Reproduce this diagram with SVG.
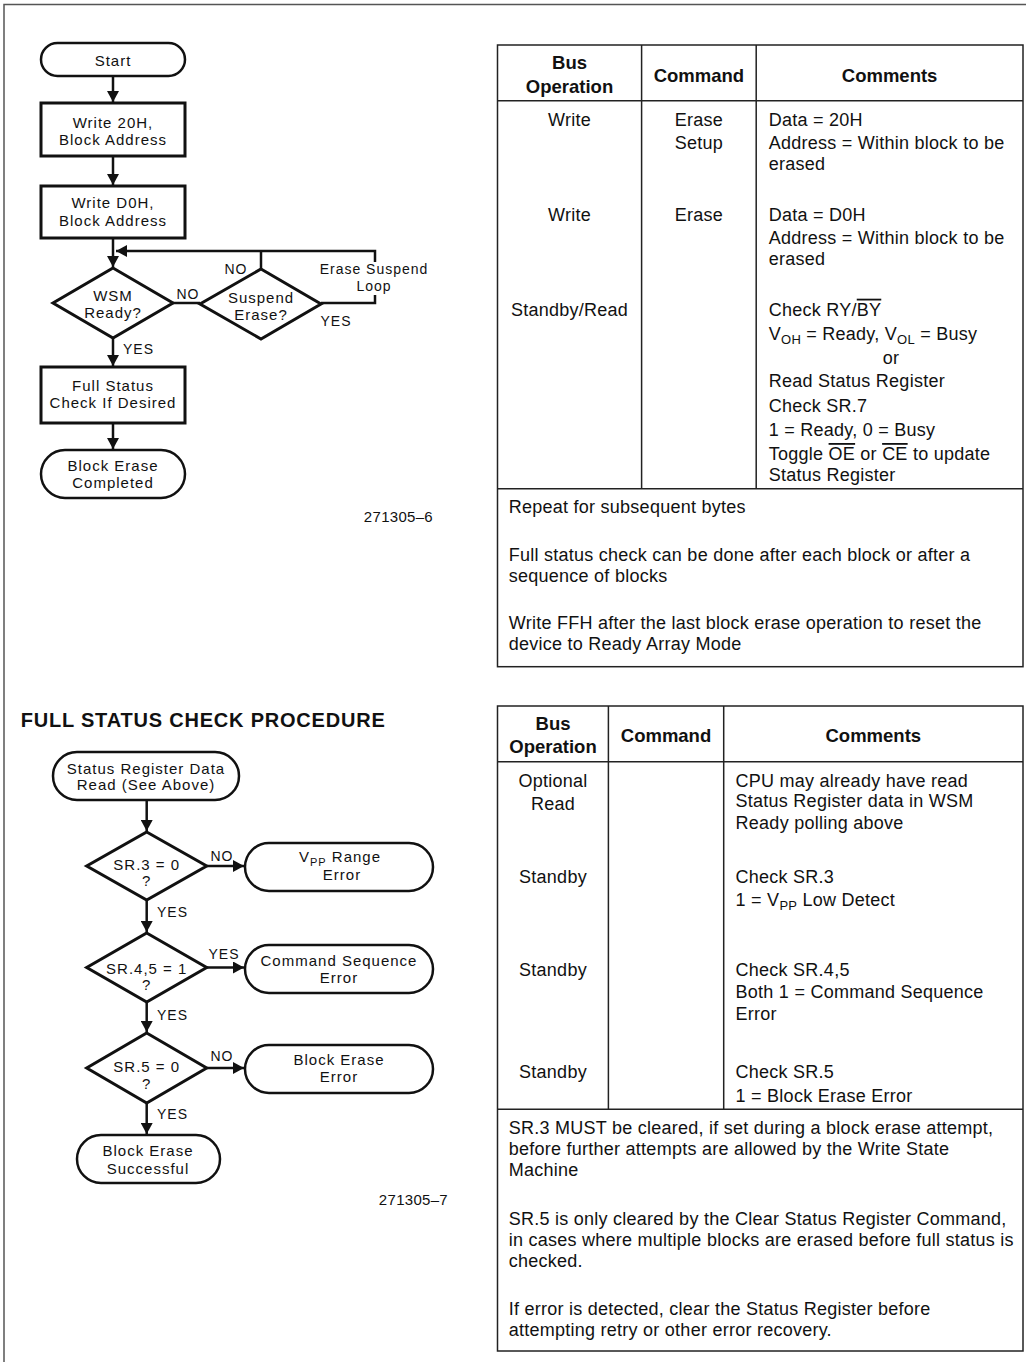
<svg xmlns="http://www.w3.org/2000/svg" width="1026" height="1362" viewBox="0 0 1026 1362">
<style>
.fc{font-family:"Liberation Sans",Arial,sans-serif;font-size:15px;letter-spacing:1px;fill:#111;text-anchor:middle}
.lb{font-family:"Liberation Sans",Arial,sans-serif;font-size:14px;letter-spacing:1px;fill:#111}
.tb{font-family:"Liberation Sans",Arial,sans-serif;font-size:18px;letter-spacing:0.25px;fill:#111}
.th{font-family:"Liberation Sans",Arial,sans-serif;font-size:18.5px;font-weight:bold;fill:#111;text-anchor:middle}
.c{text-anchor:middle}
.box{fill:#fff;stroke:#111;stroke-width:3}
.term{fill:#fff;stroke:#111;stroke-width:2.5}
.dia{fill:#fff;stroke:#111;stroke-width:3}
.con{fill:none;stroke:#111;stroke-width:2.5}
.grid{fill:none;stroke:#222;stroke-width:1.5}
.ov{text-decoration:overline}
</style>
<defs>
<marker id="ah" markerUnits="userSpaceOnUse" markerWidth="12" markerHeight="12" refX="11" refY="6" orient="auto">
<path d="M0,0 L11,6 L0,12 z" fill="#111"/>
</marker>
</defs>
<rect x="0" y="0" width="1026" height="1362" fill="#fff"/>
<g id="page-frame">
<path d="M4,1362 V4.5 H1026" fill="none" stroke="#555" stroke-width="1.5"/>
</g>

<g id="connectors">
<path class="con" d="M113,76 V102" marker-end="url(#ah)"/>
<path class="con" d="M113,156 V185" marker-end="url(#ah)"/>
<path class="con" d="M113,238 V267" marker-end="url(#ah)"/>
<path class="con" d="M321,303 H375 V295"/>
<path class="con" d="M375,262 V251 H116" marker-end="url(#ah)"/>
<path class="con" d="M261,269 V251"/>
<path class="con" d="M173,303 H200"/>
<path class="con" d="M113,338 V366" marker-end="url(#ah)"/>
<path class="con" d="M113,423 V449" marker-end="url(#ah)"/>
<path class="con" d="M146.7,800 V831" marker-end="url(#ah)"/>
<path class="con" d="M206.7,866 H244" marker-end="url(#ah)"/>
<path class="con" d="M146.7,900 V932" marker-end="url(#ah)"/>
<path class="con" d="M206.7,967.5 H244" marker-end="url(#ah)"/>
<path class="con" d="M146.7,1002 V1032" marker-end="url(#ah)"/>
<path class="con" d="M206.7,1068 H244" marker-end="url(#ah)"/>
<path class="con" d="M146.7,1103 V1134" marker-end="url(#ah)"/>
<text class="lb" x="236" y="273.5" text-anchor="middle">NO</text>
<text class="lb" x="188" y="298.5" text-anchor="middle">NO</text>
<text class="lb" x="374" y="273.5" text-anchor="middle">Erase Suspend</text>
<text class="lb" x="374" y="290.5" text-anchor="middle">Loop</text>
<text class="lb" x="336" y="325.5" text-anchor="middle">YES</text>
<text class="lb" x="123" y="353.5">YES</text>
<text class="lb" x="222" y="860.5" text-anchor="middle">NO</text>
<text class="lb" x="157" y="917">YES</text>
<text class="lb" x="224" y="958.5" text-anchor="middle">YES</text>
<text class="lb" x="157" y="1019.5">YES</text>
<text class="lb" x="222" y="1060.5" text-anchor="middle">NO</text>
<text class="lb" x="157" y="1119">YES</text>
</g>

<g id="start">
<rect class="term" x="41" y="43" width="144" height="33" rx="16.5"/>
<text class="fc" x="113" y="65.5">Start</text>
</g>
<g id="write-20h">
<rect class="box" x="41" y="103" width="144" height="53"/>
<text class="fc" x="113" y="128">Write 20H,</text>
<text class="fc" x="113" y="144.5">Block Address</text>
</g>
<g id="write-d0h">
<rect class="box" x="41" y="186" width="144" height="52"/>
<text class="fc" x="113" y="208">Write D0H,</text>
<text class="fc" x="113" y="225.5">Block Address</text>
</g>
<g id="wsm-ready">
<polygon class="dia" points="113,268 173,303 113,338 53,303"/>
<text class="fc" x="113" y="300.5">WSM</text>
<text class="fc" x="113" y="317.5">Ready?</text>
</g>
<g id="suspend-erase">
<polygon class="dia" points="261,269 321,304 261,339 200,304"/>
<text class="fc" x="261" y="302.5">Suspend</text>
<text class="fc" x="261" y="319.5">Erase?</text>
</g>
<g id="full-status">
<rect class="box" x="41" y="367" width="144" height="56"/>
<text class="fc" x="113" y="390.5">Full Status</text>
<text class="fc" x="113" y="408">Check If Desired</text>
</g>
<g id="block-erase-completed">
<rect class="term" x="41" y="450" width="144" height="48" rx="24"/>
<text class="fc" x="113" y="470.5">Block Erase</text>
<text class="fc" x="113" y="487.5">Completed</text>
</g>
<text class="tb" x="433" y="522" text-anchor="end" style="font-size:15px;letter-spacing:0.3px">271305–6</text>

<g id="table-1">
<rect class="grid" x="497.5" y="45" width="525.5" height="621.7"/>
<path class="grid" d="M497.5,100.7 H1023 M497.5,488.7 H1023 M641.6,45 V488.7 M756.2,45 V488.7"/>
<text class="th" x="569.5" y="69.3">Bus</text>
<text class="th" x="569.5" y="93">Operation</text>
<text class="th" x="698.9" y="81.5">Command</text>
<text class="th" x="889.6" y="81.5">Comments</text>
<text class="tb c" x="569.5" y="125.5">Write</text>
<text class="tb c" x="698.9" y="125.5">Erase</text>
<text class="tb c" x="698.9" y="149">Setup</text>
<text class="tb" x="768.8" y="125.5">Data = 20H</text>
<text class="tb" x="768.8" y="149">Address = Within block to be</text>
<text class="tb" x="768.8" y="170">erased</text>
<text class="tb c" x="569.5" y="221">Write</text>
<text class="tb c" x="698.9" y="221">Erase</text>
<text class="tb" x="768.8" y="221">Data = D0H</text>
<text class="tb" x="768.8" y="244.3">Address = Within block to be</text>
<text class="tb" x="768.8" y="265.3">erased</text>
<text class="tb c" x="569.5" y="315.7">Standby/Read</text>
<text class="tb" x="768.8" y="315.7">Check RY/<tspan class="ov">BY</tspan></text>
<text class="tb" x="768.8" y="340">V<tspan font-size="13" dy="4">OH</tspan><tspan dy="-4"> = Ready, V</tspan><tspan font-size="13" dy="4">OL</tspan><tspan dy="-4"> = Busy</tspan></text>
<text class="tb c" x="891" y="364">or</text>
<text class="tb" x="768.8" y="387.3">Read Status Register</text>
<text class="tb" x="768.8" y="411.7">Check SR.7</text>
<text class="tb" x="768.8" y="435.7">1 = Ready, 0 = Busy</text>
<text class="tb" x="768.8" y="460">Toggle <tspan class="ov">OE</tspan> or <tspan class="ov">CE</tspan> to update</text>
<text class="tb" x="768.8" y="480.7">Status Register</text>
<text class="tb" x="508.8" y="512.7">Repeat for subsequent bytes</text>
<text class="tb" x="508.8" y="560.7">Full status check can be done after each block or after a</text>
<text class="tb" x="508.8" y="581.7">sequence of blocks</text>
<text class="tb" x="508.8" y="629.3">Write FFH after the last block erase operation to reset the</text>
<text class="tb" x="508.8" y="650">device to Ready Array Mode</text>
</g>

<text x="20.7" y="727.3" style="font-family:'Liberation Sans',Arial,sans-serif;font-size:20px;font-weight:bold;letter-spacing:0.8px;fill:#111">FULL STATUS CHECK PROCEDURE</text>

<g id="status-register-read">
<rect class="term" x="53" y="752" width="186" height="48" rx="24"/>
<text class="fc" x="146" y="773.5">Status Register Data</text>
<text class="fc" x="146" y="790">Read (See Above)</text>
</g>
<g id="sr3">
<polygon class="dia" points="146.7,832 206.7,866 146.7,900 86.7,866"/>
<text class="fc" x="146.7" y="869.5">SR.3 = 0</text>
<text class="fc" x="146.7" y="886">?</text>
</g>
<g id="vpp-range-error">
<rect class="term" x="245" y="843" width="188" height="48" rx="24"/>
<text class="fc" x="340" y="862">V<tspan font-size="11" dy="4">PP</tspan><tspan dy="-4"> Range</tspan></text>
<text class="fc" x="342" y="880">Error</text>
</g>
<g id="sr45">
<polygon class="dia" points="146.7,933 206.7,967.5 146.7,1002 86.7,967.5"/>
<text class="fc" x="146.7" y="974">SR.4,5 = 1</text>
<text class="fc" x="146.7" y="990">?</text>
</g>
<g id="command-sequence-error">
<rect class="term" x="245" y="945" width="188" height="48" rx="24"/>
<text class="fc" x="339" y="966">Command Sequence</text>
<text class="fc" x="339" y="983">Error</text>
</g>
<g id="sr5">
<polygon class="dia" points="146.7,1033 206.7,1068 146.7,1103 86.7,1068"/>
<text class="fc" x="146.7" y="1072">SR.5 = 0</text>
<text class="fc" x="146.7" y="1089">?</text>
</g>
<g id="block-erase-error">
<rect class="term" x="245" y="1045" width="188" height="48" rx="24"/>
<text class="fc" x="339" y="1065">Block Erase</text>
<text class="fc" x="339" y="1082">Error</text>
</g>
<g id="block-erase-successful">
<rect class="term" x="77" y="1135" width="143" height="48" rx="24"/>
<text class="fc" x="148" y="1156">Block Erase</text>
<text class="fc" x="148" y="1174">Successful</text>
</g>
<text class="tb" x="448" y="1205" text-anchor="end" style="font-size:15px;letter-spacing:0.3px">271305–7</text>

<g id="table-2">
<rect class="grid" x="497.5" y="706" width="525.5" height="645"/>
<path class="grid" d="M497.5,761.7 H1023 M497.5,1109.3 H1023 M608.4,706 V1109.3 M723.7,706 V1109.3"/>
<text class="th" x="553" y="730">Bus</text>
<text class="th" x="553" y="753">Operation</text>
<text class="th" x="666" y="742">Command</text>
<text class="th" x="873.3" y="742">Comments</text>
<text class="tb c" x="553" y="786.7">Optional</text>
<text class="tb c" x="553" y="810">Read</text>
<text class="tb" x="735.6" y="786.7">CPU may already have read</text>
<text class="tb" x="735.6" y="807">Status Register data in WSM</text>
<text class="tb" x="735.6" y="829.3">Ready polling above</text>
<text class="tb c" x="553" y="882.7">Standby</text>
<text class="tb" x="735.6" y="882.7">Check SR.3</text>
<text class="tb" x="735.6" y="906">1 = V<tspan font-size="13" dy="4">PP</tspan><tspan dy="-4"> Low Detect</tspan></text>
<text class="tb c" x="553" y="976">Standby</text>
<text class="tb" x="735.6" y="976">Check SR.4,5</text>
<text class="tb" x="735.6" y="998.3">Both 1 = Command Sequence</text>
<text class="tb" x="735.6" y="1020">Error</text>
<text class="tb c" x="553" y="1078.3">Standby</text>
<text class="tb" x="735.6" y="1078.3">Check SR.5</text>
<text class="tb" x="735.6" y="1101.7">1 = Block Erase Error</text>
<text class="tb" x="508.8" y="1134">SR.3 MUST be cleared, if set during a block erase attempt,</text>
<text class="tb" x="508.8" y="1155">before further attempts are allowed by the Write State</text>
<text class="tb" x="508.8" y="1176">Machine</text>
<text class="tb" x="508.8" y="1225">SR.5 is only cleared by the Clear Status Register Command,</text>
<text class="tb" x="508.8" y="1246">in cases where multiple blocks are erased before full status is</text>
<text class="tb" x="508.8" y="1266.7">checked.</text>
<text class="tb" x="508.8" y="1315">If error is detected, clear the Status Register before</text>
<text class="tb" x="508.8" y="1336">attempting retry or other error recovery.</text>
</g>
</svg>
